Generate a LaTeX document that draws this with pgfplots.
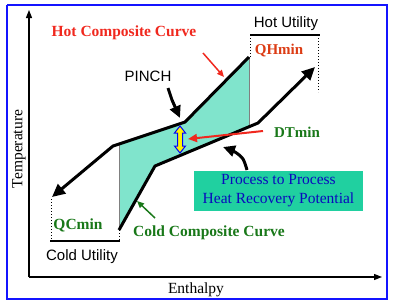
\documentclass[border=0pt]{standalone}
\usepackage{pgfplots}
\pgfplotsset{compat=1.18}
\usepackage{fontspec}
\setmainfont{Liberation Serif}
\setsansfont{Liberation Sans}
\usetikzlibrary{arrows.meta}
\definecolor{mint}{RGB}{128,228,204}
\definecolor{boxc}{RGB}{32,208,160}
\definecolor{boxt}{RGB}{10,10,190}
\definecolor{hotred}{RGB}{240,40,30}
\definecolor{qhred}{RGB}{220,60,20}
\definecolor{dkgreen}{RGB}{25,120,25}
\definecolor{frameblue}{RGB}{20,20,255}
\begin{document}
\begin{tikzpicture}
\begin{axis}[width=400pt,height=306pt,scale only axis,
  xmin=0,xmax=400,ymin=0,ymax=306,y dir=reverse,hide axis,clip=false,
  every node/.style={font=\fontsize{15}{18}\selectfont}]
% frame
\addplot[frameblue,line width=2.5pt] coordinates {(7,5) (387,5) (387,299) (7,299) (7,5)};
% axes
\addplot[black,line width=1.2pt,-{Triangle[length=8pt,width=6pt]}] coordinates {(29,277) (29,10)};
\addplot[black,line width=1.2pt,-{Triangle[length=8pt,width=6pt]}] coordinates {(29,277) (382,277)};
% green area
\addplot[fill=mint,draw=none] coordinates {(119,144) (185,122) (249,57) (249,127) (155,166) (119,230)} -- cycle;
\addplot[gray,line width=0.8pt] coordinates {(119,144) (119,230)};
\addplot[gray,line width=0.8pt] coordinates {(249,57) (249,127)};
% utilities
\addplot[black,line width=2pt] coordinates {(250,35) (320,35)};
\addplot[black,line width=1pt,dotted] coordinates {(250,35) (250,57)};
\addplot[black,line width=1pt,dotted] coordinates {(318,35) (318,92)};
\addplot[black,line width=2pt] coordinates {(50,241) (120,241)};
\addplot[black,line width=1pt,dotted] coordinates {(51,199) (51,241)};
\addplot[black,line width=1pt,dotted] coordinates {(119,230) (119,241)};
% hot composite curve
\addplot[black,line width=3pt,line join=round,-{Triangle[length=13pt,width=12pt]}] coordinates {(249,57) (185,122) (113,146) (52,197)};
% cold composite curve
\addplot[black,line width=3pt,line join=round,-{Triangle[length=13pt,width=12pt]}] coordinates {(119,230) (155,166) (258,123) (315,67)};
% annotation arrows
\addplot[hotred,line width=1.5pt,-{Triangle[length=7pt,width=6pt]}] coordinates {(203,53) (224,77)};
\addplot[black,line width=3pt,-{Triangle[length=12pt,width=11pt]}] coordinates {(168,88) (172,100) (180,118)};
\addplot[hotred,line width=2pt,-{Triangle[length=9pt,width=8pt]}] coordinates {(263,131) (188,139)};
\addplot[black,line width=3pt,smooth,-{Triangle[length=12pt,width=11pt]}] coordinates {(247,170) (243,159) (235,152) (223,147)};
\addplot[dkgreen,line width=1.5pt,-{Triangle[length=7pt,width=6pt]}] coordinates {(155,218) (137,201)};
% double arrow (DTmin)
\addplot[fill=yellow,draw=blue,line width=1pt] coordinates {(180,126) (185.5,133) (182.5,133) (182.5,146) (185.5,146) (180,153) (174.5,146) (177.5,146) (177.5,133) (174.5,133)} -- cycle;
% texts
\node[text=hotred,font=\fontsize{15.5}{18}\selectfont\bfseries] at (axis cs:124,33) {Hot Composite Curve};
\node[font=\fontsize{15}{18}\selectfont\sffamily] at (axis cs:148,76) {PINCH};
\node[font=\fontsize{15}{18}\selectfont\sffamily] at (axis cs:286,24) {Hot Utility};
\node[text=qhred,font=\fontsize{15}{18}\selectfont\bfseries] at (axis cs:279,51) {QHmin};
\node[text=dkgreen,font=\fontsize{15}{18}\selectfont\bfseries] at (axis cs:297,132) {DTmin};
\node[fill=boxc,text=boxt,minimum width=169pt,minimum height=40pt,inner sep=0pt,align=center,font=\fontsize{15.5}{19}\selectfont] at (axis cs:278.5,191) {Process to Process\\Heat Recovery Potential};
\node[text=dkgreen,font=\fontsize{15.5}{18}\selectfont\bfseries] at (axis cs:209,233) {Cold Composite Curve};
\node[text=dkgreen,font=\fontsize{15.5}{18}\selectfont\bfseries] at (axis cs:78,225) {QCmin};
\node[font=\fontsize{15}{18}\selectfont\sffamily] at (axis cs:82,257) {Cold Utility};
\node[rotate=90,font=\fontsize{15.5}{18}\selectfont] at (axis cs:19,149) {Temperature};
\node[font=\fontsize{15.5}{18}\selectfont] at (axis cs:196,290) {Enthalpy};
\end{axis}
\pgfresetboundingbox
\path (0,0) rectangle (400pt,306pt);
\end{tikzpicture}
\end{document}
